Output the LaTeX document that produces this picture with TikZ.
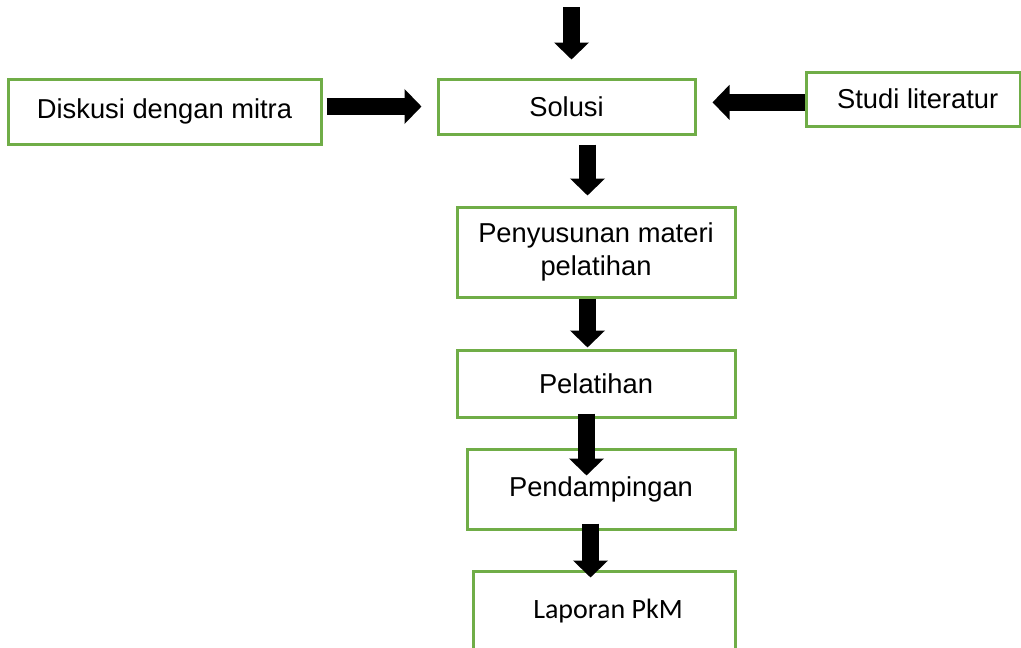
\documentclass[tikz,border=0pt]{standalone}
\usepackage{fontspec}
\setmainfont{Liberation Sans}
\newfontfamily\calibri{Carlito}
\usetikzlibrary{arrows.meta}
\definecolor{hijau}{HTML}{70AD47}
\tikzset{
  kotak/.style={draw=hijau, line width=2.25pt, rectangle, align=center, inner sep=0pt,
    font=\fontsize{20.5}{24.75}\selectfont},
  panah/.style={line width=12.75pt, -{Triangle[length=12.75pt,width=25.5pt]}}
}

\begin{document}
\begin{tikzpicture}[x=0.75pt,y=-0.75pt]
\useasboundingbox (0,0) rectangle (1021,647);
\clip (0,0) rectangle (1021,647);
\node (diskusi) [kotak, minimum width=234.75pt, minimum height=48.75pt] at (164.5,111.5) {Diskusi dengan mitra};
\node (solusi) [kotak, minimum width=192.75pt, minimum height=41.25pt] at (566.5,106.5) {Solusi};
\node (studi) [kotak, minimum width=160.5pt, minimum height=40.5pt] at (913,99) {\hspace{7pt}Studi literatur};
\node (penyusunan) [kotak, minimum width=208.5pt, minimum height=67.5pt] at (596,252) {Penyusunan materi\\pelatihan};
\node (pelatihan) [kotak, minimum width=208.5pt, minimum height=50.25pt] at (596,383.5) {Pelatihan};
\node (pendampingan) [kotak, minimum width=201pt, minimum height=60pt] at (601,489) {Pendampingan};
\node (laporan) [kotak, minimum width=196.5pt, minimum height=60pt, font=\calibri\fontsize{21}{25}\selectfont] at (604,611) {\hspace{6pt}Laporan PkM};
\coordinate (atas) at (571.5,7);
\coordinate (kol1) at (587.5,0);
\coordinate (kol2) at (586.5,0);
\coordinate (kol3) at (590.5,0);
\draw[panah, shorten >=13.5pt] (atas) -- (atas |- solusi.north);
\draw[panah, shorten <=3pt, shorten >=11.25pt] (diskusi.east |- solusi.west) -- (solusi.west);
\draw[panah, shorten >=12pt] ([yshift=-2.5pt]studi.west) -- ([yshift=-2.5pt]studi.west -| solusi.east);
\draw[panah, shorten <=6.75pt, shorten >=7.5pt] (solusi.south -| kol1) -- (penyusunan.north -| kol1);
\draw[panah, shorten >=0.75pt] (penyusunan.south -| kol1) -- (pelatihan.north -| kol1);
\draw[panah, shorten <=-3.75pt, shorten >=-21pt] (pelatihan.south -| kol2) -- (pendampingan.north -| kol2);
\draw[panah, shorten <=-5.25pt, shorten >=-6pt] (pendampingan.south -| kol3) -- (laporan.north -| kol3);
\end{tikzpicture}
\end{document}
